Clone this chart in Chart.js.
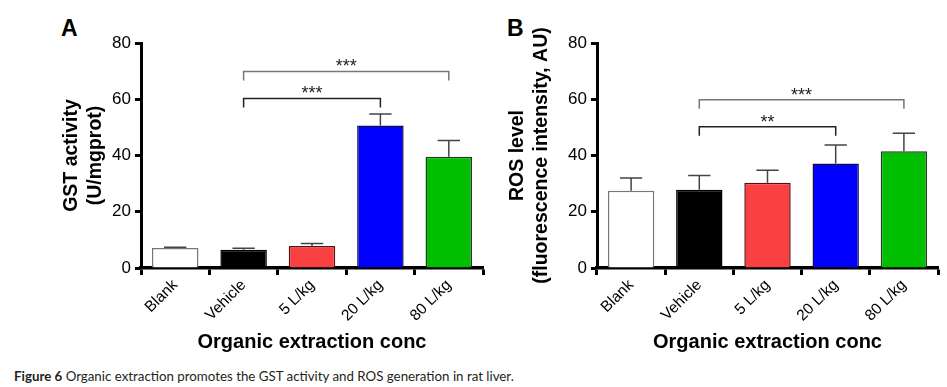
<!DOCTYPE html>
<html>
<head>
<meta charset="utf-8">
<script src="https://cdn.jsdelivr.net/npm/chart.js@4/dist/chart.umd.min.js"></script>
<style>
  body { margin: 0; background: #fff; width: 947px; height: 387px; position: relative; overflow: hidden; font-family: "Liberation Sans", Arial, sans-serif; }
  #wrapA { position: absolute; left: 0; top: 0; width: 490px; height: 360px; }
  #wrapB { position: absolute; left: 490px; top: 0; width: 457px; height: 360px; }
  .panel { position: absolute; top: 17px; font-weight: bold; font-size: 23px; line-height: 1; }
  #caption { position: absolute; left: 14px; top: 368px; font-family: Lato, "Open Sans", sans-serif; font-size: 13.3px; color: #231f20; white-space: nowrap; }
</style>
</head>
<body>
<div class="panel" style="left:61px">A</div>
<div class="panel" style="left:507px">B</div>
<div id="wrapA"><canvas id="chartA"></canvas></div>
<div id="wrapB"><canvas id="chartB"></canvas></div>
<div id="caption"><b>Figure 6</b> Organic extraction promotes the GST activity and ROS generation in rat liver.</div>
<script>
// categorias y valores
const groups = ["Blank", "Vehicle", "5 L/kg", "20 L/kg", "80 L/kg"];

const gstMean = [7.1, 6.5, 7.8, 50.7, 39.6];
const gstErr = [0.3, 0.5, 0.9, 4.1, 5.7];

const rosMean = [27.5, 27.8, 30.3, 37.2, 41.5];
const rosErr = [4.5, 5.1, 4.5, 6.5, 6.4];

const yTicks = [0, 20, 40, 60, 80];

// corchetes de significancia: [desde, hasta, altura, etiqueta]
const gstSig = [[1, 3, 60.3, "***"], [1, 4, 69.9, "***"]];
const rosSig = [[1, 3, 50.2, "**"], [1, 4, 59.8, "***"]];

const fills = ["#ffffff", "#000000", "#f94141", "#0000ff", "#00bf00"];
const borders = ["#777777", "#000000", "#5a1010", "#10104a", "#1f3a1f"];
const sigColors = ["#222222", "#777777"];

function extras(errors, sig) {
  return {
    id: "extras",
    afterDatasetsDraw(chart) {
      const { ctx } = chart;
      const y = chart.scales.y;
      const meta = chart.getDatasetMeta(0);
      const values = chart.data.datasets[0].data;
      ctx.save();
      ctx.lineWidth = 1.5;
      ctx.strokeStyle = "#444";
      meta.data.forEach((bar, i) => {
        const top = y.getPixelForValue(values[i] + errors[i]);
        const half = bar.width * 0.24;
        ctx.beginPath();
        ctx.moveTo(bar.x, bar.y);
        ctx.lineTo(bar.x, top);
        ctx.moveTo(bar.x - half, top);
        ctx.lineTo(bar.x + half, top);
        ctx.stroke();
      });
      sig.forEach((s, k) => {
        const x1 = meta.data[s[0]].x;
        const x2 = meta.data[s[1]].x;
        const yy = y.getPixelForValue(s[2]);
        const leg = y.getPixelForValue(s[2] - 3.2);
        ctx.strokeStyle = sigColors[k];
        ctx.beginPath();
        ctx.moveTo(x1, leg);
        ctx.lineTo(x1, yy);
        ctx.lineTo(x2, yy);
        ctx.lineTo(x2, leg);
        ctx.stroke();
        ctx.fillStyle = "#222";
        ctx.font = "18px 'Liberation Sans', Arial";
        ctx.textAlign = "center";
        ctx.textBaseline = "alphabetic";
        ctx.fillText(s[3], (x1 + x2) / 2, yy + 1);
      });
      ctx.restore();
    },
  };
}

function makeChart(id, values, errors, sig, yTitle, titlePad, yWidth, padRight) {
  const axisGrid = {
    display: true,
    drawOnChartArea: false,
    drawTicks: true,
    tickWidth: 3,
    tickColor: "#000",
  };
  new Chart(document.getElementById(id), {
    type: "bar",
    data: {
      labels: groups,
      datasets: [
        {
          data: values,
          backgroundColor: fills,
          borderColor: borders,
          borderWidth: 1.5,
          categoryPercentage: 1,
          barPercentage: 0.68,
        },
      ],
    },
    plugins: [extras(errors, sig)],
    options: {
      responsive: true,
      maintainAspectRatio: false,
      animation: false,
      layout: {
        padding: { left: 0, right: padRight, top: 43, bottom: 0 },
      },
      plugins: {
        legend: { display: false },
        tooltip: { enabled: false },
      },
      scales: {
        x: {
          offset: true,
          grid: { ...axisGrid, tickLength: 7 },
          border: { display: true, color: "#000", width: 3.5 },
          ticks: {
            maxRotation: 45,
            minRotation: 45,
            padding: 1,
            color: "#000",
            font: { family: "'Liberation Sans', Arial", size: 15.5 },
          },
          title: {
            display: true,
            text: "Organic extraction conc",
            color: "#000",
            font: { family: "'Liberation Sans', Arial", size: 20, weight: "bold", lineHeight: 1.2 },
            padding: { top: 0, bottom: 6 },
          },
          afterFit: (scale) => {
            scale.height = 92;
          },
        },
        y: {
          min: 0,
          max: 80,
          afterBuildTicks: (scale) => {
            scale.ticks = yTicks.map((v) => ({ value: v }));
          },
          grid: { ...axisGrid, tickLength: 6 },
          border: { display: true, color: "#000", width: 3 },
          ticks: {
            padding: 4,
            color: "#000",
            font: { family: "'Liberation Sans', Arial", size: 17 },
          },
          title: {
            display: true,
            text: yTitle,
            color: "#000",
            font: { family: "'Liberation Sans', Arial", size: 19.5, weight: "bold", lineHeight: 1.22 },
            padding: { top: titlePad, bottom: 0 },
          },
          afterFit: (scale) => {
            scale.width = yWidth;
          },
        },
      },
    },
  });
}

makeChart("chartA", gstMean, gstErr, gstSig, ["GST activity", "(U/mgprot)"], 60, 141, 7);
makeChart("chartB", rosMean, rosErr, rosSig, ["ROS level", "(fluorescence intensity, AU)"], 16, 107, 9);
</script>
</body>
</html>
